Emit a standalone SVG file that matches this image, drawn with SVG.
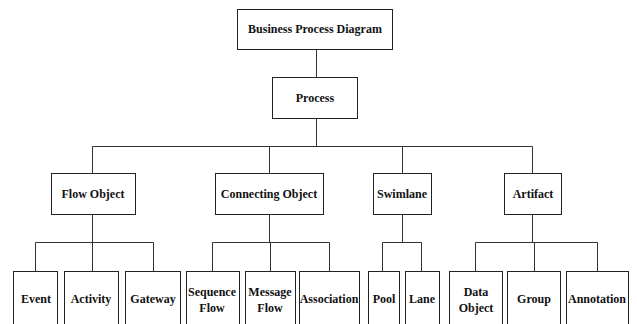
<svg xmlns="http://www.w3.org/2000/svg" width="637" height="324" viewBox="0 0 637 324">
<style>
.b{fill:#fff;stroke:#222;stroke-width:1}
.t{font-family:'Liberation Serif','DejaVu Serif',serif;font-weight:bold;font-size:12px;fill:#111;text-anchor:middle}
.c{fill:none;stroke:#333;stroke-width:1}
</style>
<rect width="637" height="324" fill="#fff"/>
<g id="connectors">
<path class="c" d="M316.5 49V77M316.5 118V146.5M92.5 146.5H532.5M92.5 146.5V173M269.5 146.5V173M402.5 146.5V173M532.5 146.5V173"/>
<path class="c" d="M92.5 214V242.5M35.5 242.5H153.5M35.5 242.5V271M92.5 242.5V271M153.5 242.5V271"/>
<path class="c" d="M269.5 214V242.5M212.5 242.5H329.5M212.5 242.5V271M270.5 242.5V271M329.5 242.5V271"/>
<path class="c" d="M402.5 215V242.5M382.5 242.5H421.5M382.5 242.5V271M421.5 242.5V271"/>
<path class="c" d="M532.5 215V242.5M475.5 242.5H597.5M475.5 242.5V271M534.5 242.5V271M597.5 242.5V271"/>
</g>
<g id="bpd"><rect class="b" x="237.5" y="9.5" width="155" height="40"/><text class="t" x="315" y="33">Business Process Diagram</text></g>
<g id="process"><rect class="b" x="272.5" y="77.5" width="85" height="41"/><text class="t" x="315" y="102">Process</text></g>
<g id="flowobject"><rect class="b" x="51.5" y="173.5" width="84" height="41"/><text class="t" x="93" y="198">Flow Object</text></g>
<g id="connectingobject"><rect class="b" x="215.5" y="173.5" width="108" height="41"/><text class="t" x="269" y="198">Connecting Object</text></g>
<g id="swimlane"><rect class="b" x="373.5" y="173.5" width="58" height="41"/><text class="t" x="402" y="198">Swimlane</text></g>
<g id="artifact"><rect class="b" x="504.5" y="173.5" width="57" height="41"/><text class="t" x="533" y="198">Artifact</text></g>
<g id="event"><rect class="b" x="13.5" y="271.5" width="44" height="60"/><text class="t" x="36" y="303">Event</text></g>
<g id="activity"><rect class="b" x="64.5" y="271.5" width="54" height="60"/><text class="t" x="91" y="303">Activity</text></g>
<g id="gateway"><rect class="b" x="125.5" y="271.5" width="55" height="60"/><text class="t" x="153" y="303">Gateway</text></g>
<g id="sequenceflow"><rect class="b" x="186.5" y="271.5" width="53" height="60"/><text class="t" x="212" y="296">Sequence</text><text class="t" x="212" y="312">Flow</text></g>
<g id="messageflow"><rect class="b" x="245.5" y="271.5" width="50" height="60"/><text class="t" x="270" y="296">Message</text><text class="t" x="270" y="312">Flow</text></g>
<g id="association"><rect class="b" x="299.5" y="271.5" width="60" height="60"/><text class="t" x="329" y="303">Association</text></g>
<g id="pool"><rect class="b" x="368.5" y="271.5" width="31" height="60"/><text class="t" x="384" y="303">Pool</text></g>
<g id="lane"><rect class="b" x="405.5" y="271.5" width="34" height="60"/><text class="t" x="422" y="303">Lane</text></g>
<g id="dataobject"><rect class="b" x="449.5" y="271.5" width="53" height="60"/><text class="t" x="476" y="296">Data</text><text class="t" x="476" y="312">Object</text></g>
<g id="group"><rect class="b" x="507.5" y="271.5" width="53" height="60"/><text class="t" x="534" y="303">Group</text></g>
<g id="annotation"><rect class="b" x="566.5" y="271.5" width="62" height="60"/><text class="t" x="597" y="303">Annotation</text></g>
</svg>
